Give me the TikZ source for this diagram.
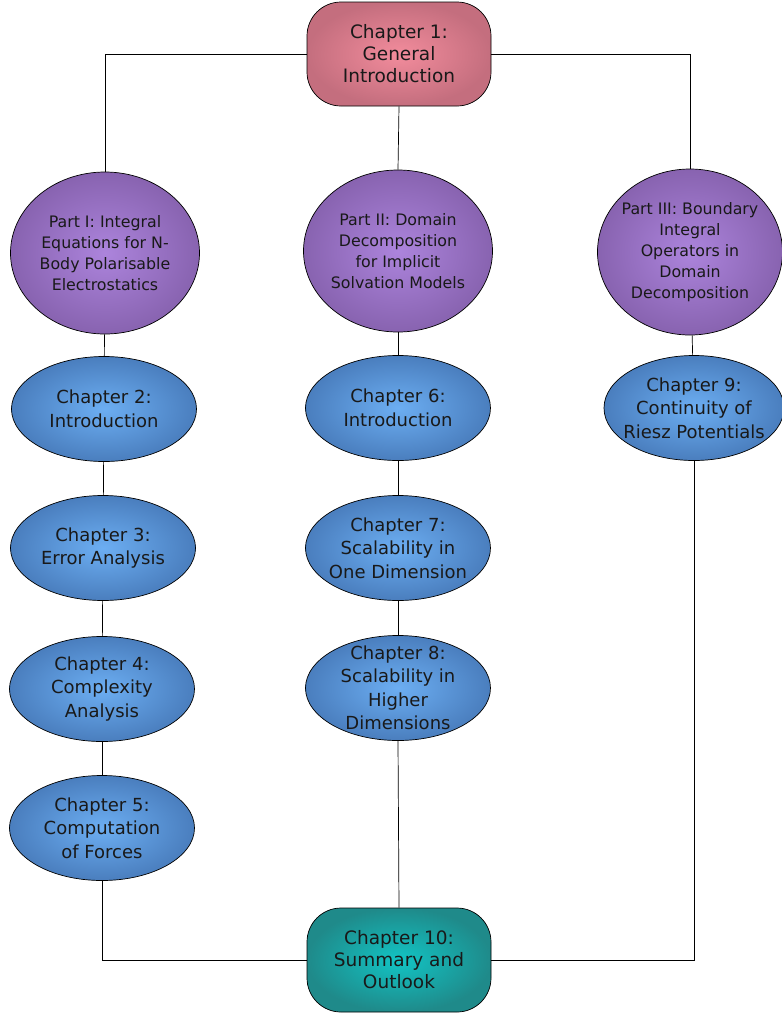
\documentclass[tikz,border=0pt]{standalone}
\usepackage{fontspec}
\setmainfont{DejaVu Sans}
\usetikzlibrary{shapes.geometric}
\definecolor{pinkin}{HTML}{F28C9C}
\definecolor{pinkout}{HTML}{C46E7E}
\definecolor{purpin}{HTML}{AC84DC}
\definecolor{purpout}{HTML}{8863B0}
\definecolor{bluein}{HTML}{6CAEF2}
\definecolor{blueout}{HTML}{4A7EBE}
\definecolor{tealin}{HTML}{12C4C4}
\definecolor{tealout}{HTML}{1F8A8A}
\tikzset{
  chap/.style={ellipse, draw=black, line width=0.7pt, minimum width=185pt, minimum height=105pt, inner sep=-70pt,
    shading=radial, inner color=bluein, outer color=blueout, align=center,
    font=\fontsize{18}{23.5}\selectfont, text=black!90},
  part/.style={ellipse, draw=black, line width=0.7pt, minimum width=189pt, minimum height=162pt, inner sep=-70pt,
    shading=radial, inner color=purpin, outer color=purpout, align=center,
    font=\fontsize{15.8}{21}\selectfont, text=black!90},
  endbox/.style={rectangle, rounded corners=34pt, draw=black, line width=0.7pt, minimum width=184pt, minimum height=104pt,
    inner sep=0pt, align=center, font=\fontsize{18.5}{22}\selectfont, text=black!90},
  link/.style={draw=black, line width=0.7pt}
}
\begin{document}
\begin{tikzpicture}[x=1pt,y=-1pt]
\useasboundingbox (0,0) rectangle (782,1013);
\node[endbox, shading=radial, inner color=pinkin, outer color=pinkout] (c1) at (399,54) {Chapter 1:\\General\\Introduction};
\node[part] (p1) at (105,253) {Part I: Integral\\Equations for N-\\Body Polarisable\\Electrostatics};
\node[part] (p2) at (398,251) {Part II: Domain\\Decomposition\\for Implicit\\Solvation Models};
\node[part, minimum width=185pt, minimum height=166pt] (p3) at (690,252) {Part III: Boundary\\Integral\\Operators in\\Domain\\Decomposition};
\node[chap] (c2) at (104,409) {Chapter 2:\\Introduction};
\node[chap] (c3) at (103,548) {Chapter 3:\\Error Analysis};
\node[chap] (c4) at (102,689) {Chapter 4:\\Complexity\\Analysis};
\node[chap] (c5) at (102,828) {Chapter 5:\\Computation\\of Forces};
\node[chap] (c6) at (398,408) {Chapter 6:\\Introduction};
\node[chap] (c7) at (398,548) {Chapter 7:\\Scalability in\\One Dimension};
\node[chap] (c8) at (398,688) {Chapter 8:\\Scalability in\\Higher\\Dimensions};
\node[chap, minimum width=180pt] (c9) at (694,408) {Chapter 9:\\Continuity of\\Riesz Potentials};
\node[endbox, shading=radial, inner color=tealin, outer color=tealout] (c10) at (399,960) {Chapter 10:\\Summary and\\Outlook};
\draw[link] (c1.west) -| (p1.north);
\draw[link] (c1.east) -| (p3.north);
\draw[link] (c1.south) -- (p2.north);
\draw[link] (p1) -- (c2);
\draw[link] (c2) -- (c3);
\draw[link] (c3) -- (c4);
\draw[link] (c4) -- (c5);
\draw[link] (p2) -- (c6);
\draw[link] (c6) -- (c7);
\draw[link] (c7) -- (c8);
\draw[link] (p3) -- (c9);
\draw[link] (c5.south) |- (c10.west);
\draw[link] (c9.south) |- (c10.east);
\draw[link] (c8.south) -- (c10.north);
\end{tikzpicture}
\end{document}
